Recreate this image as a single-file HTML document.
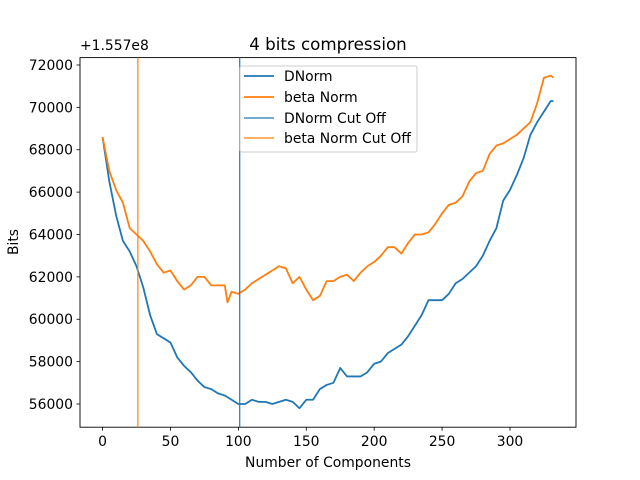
<!DOCTYPE html>
<html><head><meta charset="utf-8"><style>
body{margin:0;background:#fff;}
svg{display:block;font-family:"DejaVu Sans","Liberation Sans",sans-serif;}
</style></head><body>
<svg id="chart" width="640" height="480"></svg>
<script>
const xs = [0,5,10,15,20,25,30,35,40,45,50,55,60,65,70,75,80,85,90,95,100,105,110,115,120,125,130,135,140,145,150,155,160,165,170,175,180,185,190,195,200,205,210,215,220,225,230,235,240,245,250,255,260,265,270,275,280,285,290,295,300,305,310,315,320,325,330,332];
const dnorm = [68600,66500,64900,63700,63200,62500,61500,60200,59300,59100,58900,58200,57800,57500,57100,56800,56700,56500,56400,56200,56000,56000,56200,56100,56100,56000,56100,56200,56100,55800,56200,56200,56700,56900,57000,57700,57300,57300,57300,57500,57900,58000,58400,58600,58800,59200,59700,60200,60900,60900,60900,61200,61700,61900,62200,62500,63000,63700,64300,65600,66100,66800,67600,68700,69300,69800,70300,70300];
const xsB = [0,5,10,15,20,25,30,35,40,45,50,55,60,65,70,75,80,85,90,92,95,100,105,110,115,120,125,130,135,140,145,150,155,160,165,170,175,180,185,190,195,200,205,210,215,220,225,230,235,240,245,250,255,260,265,270,275,280,285,290,295,300,305,310,315,320,325,330,332];
const betaNorm = [68600,67000,66100,65500,64300,64000,63700,63200,62600,62200,62300,61800,61400,61600,62000,62000,61600,61600,61600,60800,61300,61200,61400,61700,61900,62100,62300,62500,62400,61700,62000,61400,60900,61100,61800,61800,62000,62100,61800,62200,62500,62700,63000,63400,63400,63100,63600,64000,64000,64100,64500,65000,65400,65500,65800,66500,66900,67000,67800,68200,68300,68500,68700,69000,69300,70200,71400,71500,71400];
const cutoffs = [101, 26];
const xTicks = [0,50,100,150,200,250,300];
const yTicks = [56000,58000,60000,62000,64000,66000,68000,70000,72000];
const NS='http://www.w3.org/2000/svg';
const svg=document.getElementById('chart');
const L=80,R=576,T=57.6,B=427.2;
const xmin=-16.6,xmax=348.6,ymin=54905,ymax=72349;
const X=v=>L+(v-xmin)/(xmax-xmin)*(R-L);
const Y=v=>B-(v-ymin)/(ymax-ymin)*(B-T);
function el(t,a,p){const e=document.createElementNS(NS,t);for(const k in a)e.setAttribute(k,a[k]);(p||svg).appendChild(e);return e;}
function line(xa,ya,c,name){
  const p=el('polyline',{points:xa.map((x,i)=>X(x)+','+Y(ya[i])).join(' '),fill:'none',stroke:c,'stroke-width':1.8,'stroke-linejoin':'round'});
  
  
}
const ax=el('rect',{x:L,y:T,width:R-L,height:B-T,fill:'none',stroke:'#000','stroke-width':0.9});


line(xs,dnorm,'#1f77b4','dnorm-line');
line(xsB,betaNorm,'#ff7f0e','beta-norm-line');
const cc=['#1f77b4','#ff7f0e'];
cutoffs.forEach((c,i)=>{
  const v=el('line',{x1:X(c),x2:X(c),y1:T,y2:B,stroke:cc[i],'stroke-width':1.2});
  
  
});
xTicks.forEach(t=>{
  const tk=el('line',{x1:X(t),x2:X(t),y1:B,y2:B+3.5,stroke:'#000','stroke-width':0.8});
  
  
  const tx=el('text',{x:X(t),y:B+19,'font-size':13.9,'text-anchor':'middle'});tx.textContent=t;
  
  
});
yTicks.forEach(t=>{
  const tk=el('line',{x1:L-3.5,x2:L,y1:Y(t),y2:Y(t),stroke:'#000','stroke-width':0.8});
  
  
  const tx=el('text',{x:L-7,y:Y(t)+5,'font-size':13.9,'text-anchor':'end'});tx.textContent=t;
  
  
});
</script>
<svg width="640" height="480" style="position:absolute;left:0;top:0">
<text x="328" y="50" font-size="16.7" text-anchor="middle" font-family="DejaVu Sans,sans-serif">4 bits compression</text>
<text x="80" y="50" font-size="13.9" font-family="DejaVu Sans,sans-serif">+1.557e8</text>
<text x="328" y="467" font-size="13.9" text-anchor="middle" font-family="DejaVu Sans,sans-serif">Number of Components</text>
<text transform="translate(18,242) rotate(-90)" font-size="13.9" text-anchor="middle" font-family="DejaVu Sans,sans-serif">Bits</text>
<g font-family="DejaVu Sans,sans-serif" font-size="13.9">
<rect x="240" y="66" width="177" height="86" rx="2" fill="#fff" fill-opacity="0.8" stroke="#ccc"/>
<line x1="244" x2="274" y1="76" y2="76" stroke="#1f77b4" stroke-width="1.8"/>
<text x="284" y="81">DNorm</text>
<line x1="244" x2="274" y1="97" y2="97" stroke="#ff7f0e" stroke-width="1.8"/>
<text x="284" y="102">beta Norm</text>
<line x1="244" x2="274" y1="118" y2="118" stroke="#1f77b4" stroke-width="1.2"/>
<text x="284" y="123">DNorm Cut Off</text>
<line x1="244" x2="274" y1="138" y2="138" stroke="#ff7f0e" stroke-width="1.2"/>
<text x="284" y="143">beta Norm Cut Off</text>
</g>
</svg>
</body></html>
